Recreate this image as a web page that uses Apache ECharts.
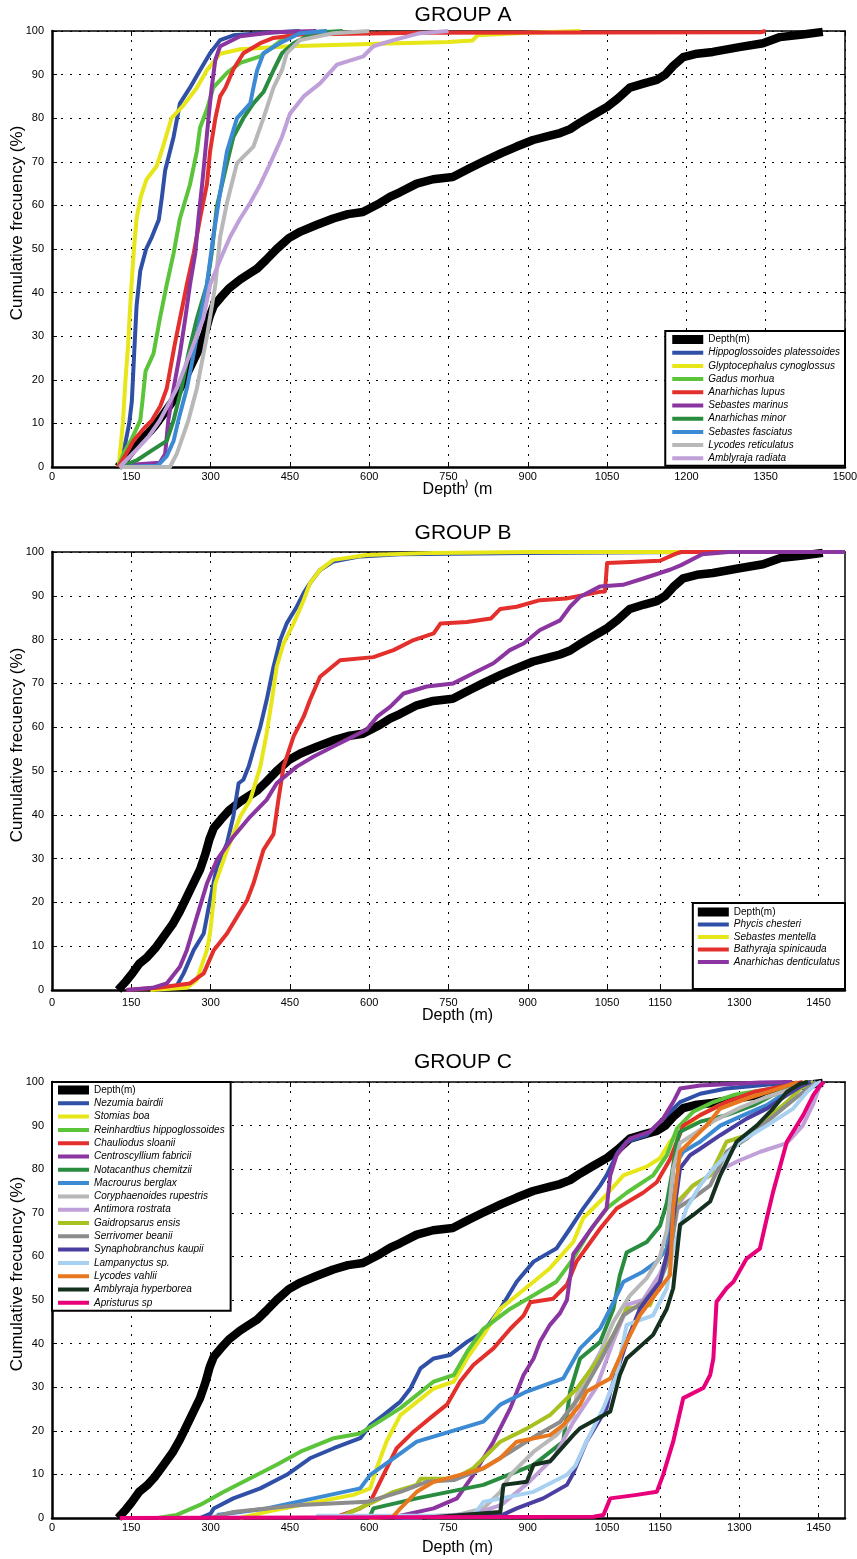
<!DOCTYPE html>
<html>
<head>
<meta charset="utf-8">
<title>Cumulative frequency by depth</title>
<script src="https://cdn.jsdelivr.net/npm/echarts@6/dist/echarts.min.js"></script>
<style>
  html, body { margin: 0; padding: 0; background: #fff; }
  #chart { width: 857px; height: 1559px; }
</style>
</head>
<body>
<div id="chart"></div>
<script>
// ---- Axis ticks ----
const depthTicksA = [0, 150, 300, 450, 600, 750, 900, 1050, 1200, 1350, 1500];
const depthTicksBC = [0, 150, 300, 450, 600, 750, 900, 1050, 1150, 1300, 1450];

// ---- Curves: [depth (m), cumulative frequency (%)] ----
const depthProfile = [[125,0],[140,2],[150,3.5],[165,6],[180,7.5],[195,9.5],[210,12],[228,15],[242,18],[258,22],[270,25],[280,27.5],[290,31],[298,34.5],[306,37],[320,39],[335,41],[356,43],[375,44.5],[388,45.5],[405,47.5],[425,50],[448,52.5],[470,54],[500,55.5],[532,57],[560,58],[588,58.5],[620,60.5],[640,62],[658,63],[690,65],[721,66],[758,66.5],[790,68.5],[815,70],[850,72],[879,73.5],[910,75],[942,76],[961,76.6],[980,77.5],[999,79],[1020,80.5],[1050,82.6],[1070,84.5],[1093,87],[1120,88],[1144,88.8],[1160,90],[1175,92],[1194,94],[1220,94.8],[1250,95.2],[1300,96.3],[1345,97.2],[1377,98.6],[1420,99.2],[1458,99.8]];

// Group A
const hippoglossoidesPlatessoides = [[128,0],[138,5],[146,10],[151,15],[155,25],[160,37],[167,45],[178,50],[189,52.8],[202,56.7],[208,62],[214,68],[230,75.7],[242,83.4],[261,87],[280,91],[299,94.9],[318,97.9],[343,99],[406,99.6],[469,100]];
const glyptocephalusCynoglossus = [[126,0],[130,5],[134,10],[139,20],[144,28],[147,35],[150,41],[155,50],[160,57],[168,62],[179,66],[198,69],[210,73.5],[226,80],[249,83],[274,87],[293,91],[318,94.8],[356,95.8],[450,96.5],[600,97],[750,97.5],[795,97.8],[805,99],[900,99.6],[1000,100]];
const gadusMorhua = [[125,0],[135,3],[151,6.5],[167,10.7],[171,15],[177,22],[192,26],[204,34],[217,41.8],[230,49],[242,57],[261,64.8],[274,72.4],[280,77.8],[293,82],[305,87],[331,90.4],[356,92.7],[394,94.2],[419,96.5],[444,98.8],[469,99.5],[520,100]];
const anarhichasLupus = [[125,0],[140,3],[154,6],[175,9],[189,10.7],[205,14],[217,18],[223,22],[232,28],[242,34],[255,41.8],[268,49],[280,57],[293,64.8],[299,72.4],[309,80],[318,85],[328,87],[343,91.2],[362,94.9],[394,97.2],[419,98.4],[469,99.2],[700,99.6],[1340,99.7],[1350,100]];
const sebastesMarinus = [[128,0],[150,0.5],[204,1],[214,3],[220,10.7],[230,18],[242,26],[252,34],[261,41.8],[271,49],[277,57],[284,64.8],[290,72.4],[296,80],[302,87],[309,93.4],[318,96.5],[356,98.8],[419,99.7],[500,100]];
const anarhichasMinor = [[128,0],[160,1.5],[189,3.8],[217,6],[230,10.7],[245,18],[258,26],[274,34],[293,41.8],[302,49],[312,59.8],[331,69.7],[343,75.7],[362,80],[381,83.4],[400,86],[419,91],[435,94.9],[457,97.2],[495,99.6],[550,100]];
const sebastesFasciatus = [[130,0],[200,0.3],[217,2.5],[230,6],[239,10.7],[255,18],[268,26],[280,34],[293,41.8],[305,52.8],[315,60.6],[331,72.4],[350,80],[375,83.4],[381,87],[388,91],[400,94.9],[431,97.2],[469,99.5],[520,100]];
const lycodesReticulatus = [[128,0],[223,0],[236,3],[258,10.7],[274,18],[293,30],[309,41.8],[318,52.8],[331,60.6],[350,69.7],[381,73.5],[400,80],[419,87],[435,91],[444,94.9],[469,97.9],[532,99.5],[600,100]];
const amblyrajaRadiata = [[128,0],[160,4],[183,7],[204,10.7],[236,18],[261,26],[286,34],[299,41.8],[318,47.5],[337,52.8],[356,57],[375,60.6],[394,64.8],[413,69.7],[435,75.7],[450,81],[476,85],[507,88],[539,92.3],[589,94.2],[608,96.5],[646,97.9],[696,99.5],[750,100]];

// Group B
const phycisChesteri = [[200,0],[236,1],[249,3.8],[268,9.1],[287,12.9],[299,20.5],[312,28.2],[331,33.5],[343,39.6],[353,47.2],[362,48],[372,51],[381,54.8],[394,60.1],[406,66.2],[419,73.8],[432,80],[444,83.7],[463,87.5],[476,90.6],[488,92.9],[507,95.9],[532,97.8],[583,99],[659,99.5],[900,99.8],[1200,100],[1500,100]];
const sebastesMentella = [[186,0],[255,0.5],[274,2.3],[293,9.1],[299,12.9],[309,24.3],[331,31.9],[356,39.6],[375,43.4],[394,51],[406,58.6],[416,66.2],[425,73.8],[438,79.1],[457,83.7],[476,89],[488,92.9],[507,95.9],[532,98.2],[595,99.3],[722,99.8],[900,100],[1500,100]];
const bathyrajaSpinicauda = [[141,0],[200,0.5],[261,1.5],[287,3.8],[306,9.1],[331,12.9],[350,16.7],[369,20.5],[381,24.3],[400,32],[419,35.6],[428,43.2],[438,51],[457,57.9],[476,62.4],[488,66.2],[507,71.5],[545,75.3],[608,76],[646,77.6],[684,79.9],[722,81.4],[735,83.7],[785,84],[830,84.8],[848,87],[879,87.5],[923,89],[973,89.4],[1036,90.9],[1046,91],[1050,97.5],[1150,98],[1178,99.5],[1190,100],[1500,100]];
const anarhichasDenticulatus = [[141,0],[190,0.5],[217,1.5],[242,5.3],[255,9.1],[274,16.7],[293,24.3],[312,29.7],[343,35],[375,39.6],[406,43.4],[425,47.2],[463,51],[495,53.3],[532,55.6],[570,57.9],[595,59.4],[615,62.4],[640,64.7],[665,67.7],[709,69.3],[759,70],[797,72.3],[835,74.6],[866,77.6],[892,79.1],[923,82.2],[961,84.4],[980,87.5],[999,89.8],[1036,92.1],[1080,92.5],[1120,94],[1170,96],[1190,97],[1230,99.5],[1280,100],[1500,100]];

// Group C
const nezumiaBairdii = [[280,0],[300,1],[306,2.2],[343,4.5],[394,6.8],[444,9.9],[488,13.7],[533,16],[583,18.3],[602,21.3],[627,23.6],[659,26.7],[678,29.7],[697,34.3],[722,36.6],[753,37.4],[785,40.4],[816,42.7],[848,48],[879,54.2],[911,58.8],[954,61.8],[980,66.4],[1005,71],[1037,76.3],[1049,78.6],[1071,84],[1087,86.3],[1125,87.8],[1163,92.4],[1188,95.4],[1226,97.3],[1276,98.5],[1371,99.6],[1390,100]];
const stomiasBoa = [[356,0],[406,1.4],[501,3.7],[570,5.3],[602,6.8],[614,11.4],[633,17.6],[659,23.6],[722,29.7],[760,31.3],[785,36.6],[816,42],[848,48],[911,54.2],[942,57.3],[986,63.3],[1005,68.8],[1043,73.4],[1081,78.6],[1125,80.6],[1150,82.5],[1169,86.3],[1200,90],[1226,92.4],[1264,94.7],[1314,97],[1371,98.5],[1415,99.6],[1430,100]];
const reinhardtiusHippoglossoides = [[200,0],[236,0.7],[280,3],[325,6],[375,9.1],[425,12.2],[470,15.2],[533,18.3],[583,19.4],[608,21.3],[659,25.2],[722,31.3],[760,32.8],[785,38.1],[816,43.4],[867,48],[911,51.1],[954,54.2],[986,59.5],[1018,66],[1049,71],[1087,74.6],[1137,78.6],[1163,83.2],[1182,89.3],[1213,93.2],[1251,95.4],[1289,97],[1364,98.5],[1415,99.6],[1430,100]];
const chauliodusSloanii = [[500,0],[533,0],[583,2.2],[602,3.7],[627,9.9],[652,16],[684,19.8],[722,23.6],[747,26],[772,31.3],[797,35.1],[835,38.9],[867,43.4],[892,46.4],[905,49.5],[948,50.3],[974,53.5],[992,58.8],[1037,66.4],[1068,71],[1118,74.6],[1144,77],[1169,82.3],[1194,90],[1226,92.4],[1276,95.4],[1327,97.7],[1390,99.2],[1420,100]];
const centroscylliumFabricii = [[600,0],[659,0.5],[722,2.2],[766,4.5],[797,9.9],[835,17.5],[867,25.2],[892,32.8],[911,36.6],[923,40.4],[942,44.3],[961,47],[974,50],[986,60.5],[1024,67],[1049,71],[1056,78.6],[1068,83.2],[1093,87],[1131,88.6],[1156,91.6],[1175,95.4],[1188,98.5],[1226,99.2],[1339,99.9],[1400,100]];
const notacanthusChemitzii = [[600,0],[608,2.2],[690,4.5],[816,7.6],[911,12.2],[967,17.5],[980,29],[999,36.6],[1037,40.4],[1062,48],[1074,55.6],[1087,60.9],[1125,63.3],[1150,67],[1163,72.3],[1172,78.5],[1182,86.3],[1188,88.6],[1226,90.9],[1276,92.4],[1327,94.7],[1364,97],[1402,98.9],[1430,100]];
const macrourusBerglax = [[312,0.7],[406,2.2],[495,4.5],[583,6.8],[602,9.9],[646,13.7],[690,17.5],[753,19.8],[816,22.1],[848,26],[898,29],[967,32],[999,38.9],[1037,43.5],[1056,48],[1081,54.2],[1118,56.5],[1144,58.8],[1163,61.8],[1169,69.5],[1175,80.2],[1194,84],[1226,86.3],[1264,90],[1308,92.4],[1352,94.7],[1390,97.7],[1428,99.2],[1445,100]];
const coryphaenoidesRupestris = [[650,0],[753,0.3],[816,2.2],[848,6],[867,9.9],[911,15.2],[954,19],[986,23.6],[992,28],[1037,38],[1062,45],[1093,51],[1125,55],[1150,60],[1163,66],[1175,80],[1188,86],[1213,88],[1251,91],[1300,94],[1350,96.5],[1400,98.5],[1440,100]];
const antimoraRostrata = [[650,0],[800,1],[850,3],[900,8],[950,14],[986,22],[1030,30],[1060,40],[1090,49],[1118,50],[1150,56],[1170,62],[1185,72],[1210,76],[1250,79],[1300,82],[1340,84],[1390,86],[1420,90],[1440,95],[1455,100]];
const gaidropsarusEnsis = [[550,0.5],[608,3.7],[646,6],[690,7.6],[697,9],[760,9],[797,11.4],[848,17.5],[898,20.5],[942,23.6],[993,29.7],[1037,37],[1062,42],[1087,48],[1131,48.8],[1150,54.2],[1169,63.3],[1182,72.4],[1213,76.3],[1245,78.6],[1276,86.3],[1314,87.8],[1352,91.6],[1390,95.4],[1415,98.5],[1440,100]];
const serrivomerBeanii = [[300,0],[343,1.4],[470,3],[596,3.7],[659,6],[709,8.3],[760,8.7],[816,11.4],[867,15.2],[917,19],[961,22],[999,28],[1037,36],[1081,46.5],[1118,49.5],[1150,54.2],[1169,60.2],[1182,71],[1213,73.4],[1245,76.3],[1276,84],[1314,87],[1352,90.9],[1390,94.7],[1421,97.7],[1445,100]];
const synaphobranchusKaupii = [[650,0],[848,0.5],[879,2.2],[929,4.5],[974,7.6],[985,10],[1011,17.5],[1049,25.2],[1056,29],[1087,40.4],[1112,48],[1150,54.2],[1169,63.3],[1188,80.2],[1207,83.2],[1226,84.7],[1264,87.8],[1314,91.6],[1352,93.9],[1390,97],[1415,98.9],[1435,100]];
const lampanyctusSp = [[500,0.5],[797,0.5],[816,3.7],[911,6],[974,9.9],[990,12],[1011,17.5],[1043,25.2],[1068,32.8],[1087,44.3],[1137,46.5],[1163,52.7],[1175,61.8],[1200,71],[1226,76.3],[1251,80.2],[1301,86.3],[1352,90],[1402,93.9],[1428,97.7],[1446,99.6],[1455,100]];
const lycodesVahlii = [[600,0],[645,0.3],[659,2.2],[690,6],[722,8.3],[772,9.9],[816,11.4],[848,13.7],[879,17.5],[942,19],[967,21.3],[999,26],[1011,29],[1056,32],[1087,40.4],[1112,46.5],[1150,52.7],[1169,55.7],[1175,71],[1188,84],[1213,87],[1238,90],[1264,93.9],[1314,96.2],[1364,98.1],[1402,99.6],[1410,100]];
const amblyrajaHyperborea = [[700,0],[848,1.4],[854,7.6],[898,8.3],[911,12.2],[942,13],[986,19],[999,20.6],[1056,24.4],[1074,32.8],[1087,36.6],[1137,42],[1163,48],[1175,52.7],[1188,67.3],[1213,69.5],[1245,72.6],[1264,78.6],[1295,86.3],[1333,90],[1364,93.9],[1390,97.7],[1415,99.6],[1430,100]];
const apristurusSp = [[128,0],[1024,0.3],[1043,0.7],[1056,4.5],[1106,5.3],[1144,6],[1156,9.9],[1175,17.5],[1194,27.5],[1232,29.8],[1245,32.8],[1251,36.6],[1257,49.6],[1276,52.7],[1289,54.2],[1314,59.5],[1339,61.8],[1352,68.7],[1364,74.8],[1390,86.3],[1421,92.4],[1440,97],[1453,99.2],[1460,100]];

// ---- Series names (legend order = drawing order) ----
const groupANames = ['Depth(m)', 'Hippoglossoides platessoides', 'Glyptocephalus cynoglossus', 'Gadus morhua', 'Anarhichas lupus', 'Sebastes marinus', 'Anarhichas minor', 'Sebastes fasciatus', 'Lycodes reticulatus', 'Amblyraja radiata'];
const groupACurves = [depthProfile, hippoglossoidesPlatessoides, glyptocephalusCynoglossus, gadusMorhua, anarhichasLupus, sebastesMarinus, anarhichasMinor, sebastesFasciatus, lycodesReticulatus, amblyrajaRadiata];

const groupBNames = ['Depth(m)', 'Phycis chesteri', 'Sebastes mentella', 'Bathyraja spinicauda', 'Anarhichas denticulatus'];
const groupBCurves = [depthProfile, phycisChesteri, sebastesMentella, bathyrajaSpinicauda, anarhichasDenticulatus];

const groupCNames = ['Depth(m)', 'Nezumia bairdii', 'Stomias boa', 'Reinhardtius hippoglossoides', 'Chauliodus sloanii', 'Centroscyllium fabricii', 'Notacanthus chemitzii', 'Macrourus berglax', 'Coryphaenoides rupestris', 'Antimora rostrata', 'Gaidropsarus ensis', 'Serrivomer beanii', 'Synaphobranchus kaupii', 'Lampanyctus sp.', 'Lycodes vahlii', 'Amblyraja hyperborea', 'Apristurus sp'];
const groupCCurves = [depthProfile, nezumiaBairdii, stomiasBoa, reinhardtiusHippoglossoides, chauliodusSloanii, centroscylliumFabricii, notacanthusChemitzii, macrourusBerglax, coryphaenoidesRupestris, antimoraRostrata, gaidropsarusEnsis, serrivomerBeanii, synaphobranchusKaupii, lampanyctusSp, lycodesVahlii, amblyrajaHyperborea, apristurusSp];

// ---- Styling ----
const groupAColors = ['#000000', '#3050a8', '#e6e619', '#5cc43a', '#e3302c', '#8a35a0', '#2a8c3e', '#3d8ad4', '#b8b8b8', '#c0a0d8'];
const groupBColors = ['#000000', '#3050a8', '#e6e619', '#e3302c', '#8a35a0'];
const groupCColors = ['#000000', '#3050a8', '#e6e619', '#5cc43a', '#e3302c', '#8a35a0', '#2a8c3e', '#3d8ad4', '#b8b8b8', '#c0a0d8', '#a8c020', '#8c8c8c', '#4a3fa0', '#a8d0f0', '#e87820', '#163020', '#e8007a'];

const FONT = "'Liberation Sans', Arial, Helvetica, sans-serif";

const grids = [
  { left: 52, right: 12, top: 31, height: 436 },
  { left: 52, right: 12, top: 552, height: 438 },
  { left: 52, right: 12, top: 1082, height: 436 }
];

// Legend swatch: a bar of height barH centred in a w x h box
function swatch(w, h, barH) {
  const y0 = (h - barH) / 2;
  return 'path://M0,0h0.01v0.01h-0.01z M0,' + y0 + 'h' + w + 'v' + barH + 'h-' + w + 'z M' + (w - 0.01) + ',' + (h - 0.01) + 'h0.01v0.01h-0.01z';
}

function legendData(names, h) {
  return names.map((n, i) => ({
    name: n,
    icon: swatch(31, h, i === 0 ? 9 : 4),
    textStyle: i === 0 ? { fontStyle: 'normal' } : { fontStyle: 'italic' }
  }));
}

function makeSeries(g, names, curves, colors) {
  return names.map((n, i) => ({
    type: 'line',
    name: n,
    xAxisIndex: g * 2,
    yAxisIndex: g * 2,
    data: curves[i],
    showSymbol: false,
    symbol: 'none',
    clip: false,
    silent: true,
    color: colors[i],
    z: 3,
    lineStyle: { color: colors[i], width: i === 0 ? 8.5 : 4, join: 'round', cap: 'butt' }
  }));
}

const plainNumber = v => String(v);

function mainX(g, ticks, name, labelMargin, nameGap) {
  const ax = {
    gridIndex: g, type: 'value', position: 'bottom', min: 0, max: 1500,
    axisLine: { show: true, onZero: false, lineStyle: { color: '#000', width: 2.5 } },
    axisTick: { show: true, inside: true, length: 5, lineStyle: { color: '#000', width: 1 } },
    axisLabel: { show: true, color: '#000', fontSize: 11, fontFamily: FONT, margin: labelMargin, showMinLabel: true, showMaxLabel: true, formatter: plainNumber },
    splitLine: { show: true, lineStyle: { color: '#000', width: 1, type: [2, 7] } },
    name: name, nameLocation: 'middle', nameGap: nameGap, nameMoveOverlap: false,
    nameTextStyle: { color: '#000', fontSize: 16, fontFamily: FONT, padding: [0, 0, 0, 18] }
  };
  if (ticks === depthTicksA) {
    ax.interval = 150;
  } else {
    ax.axisLabel.customValues = ticks;
    ax.axisTick.customValues = ticks;
  }
  return ax;
}

function frameX(g, ticks) {
  const ax = {
    gridIndex: g, type: 'value', position: 'top', min: 0, max: 1500,
    axisLine: { show: true, onZero: false, lineStyle: { color: '#000', width: 1.5 } },
    axisTick: { show: true, inside: true, length: 5, lineStyle: { color: '#000', width: 1 } },
    axisLabel: { show: false }, splitLine: { show: false }
  };
  if (ticks === depthTicksA) ax.interval = 150; else ax.axisTick.customValues = ticks;
  return ax;
}

function mainY(g) {
  return {
    gridIndex: g, type: 'value', position: 'left', min: 0, max: 100, interval: 10,
    axisLine: { show: true, onZero: false, lineStyle: { color: '#000', width: 2.5 } },
    axisTick: { show: true, inside: true, length: 5, lineStyle: { color: '#000', width: 1 } },
    axisLabel: { show: true, color: '#000', fontSize: 11, fontFamily: FONT, margin: 8, showMinLabel: true, showMaxLabel: true, formatter: plainNumber },
    splitLine: { show: true, lineStyle: { color: '#000', width: 1, type: [2, 7] } },
    name: 'Cumulative frecuency (%)', nameLocation: 'middle', nameGap: 26, nameMoveOverlap: false,
    nameTextStyle: { color: '#000', fontSize: 17, fontFamily: FONT, padding: [0, 0, 0, 52] }
  };
}

function frameY(g) {
  return {
    gridIndex: g, type: 'value', position: 'right', min: 0, max: 100, interval: 10,
    axisLine: { show: true, onZero: false, lineStyle: { color: '#000', width: 1.5 } },
    axisTick: { show: true, inside: true, length: 5, lineStyle: { color: '#000', width: 1 } },
    axisLabel: { show: false }, splitLine: { show: false }
  };
}

const legendBase = {
  orient: 'vertical', align: 'left', selectedMode: false,
  itemWidth: 31, backgroundColor: '#fff', borderColor: '#000', borderWidth: 2, borderRadius: 0,
  itemStyle: { borderWidth: 0 },
  textStyle: { color: '#000', fontSize: 10, lineHeight: 12, fontFamily: FONT, fontStyle: 'italic' },
  z: 10
};

const titleStyle = { color: '#000', fontSize: 21, fontWeight: 'normal', fontFamily: FONT };

const option = {
  backgroundColor: '#fff',
  animation: false,
  title: [
    { text: 'GROUP A', left: 463, top: 5, textAlign: 'center', padding: 0, textStyle: titleStyle },
    { text: 'GROUP B', left: 463, top: 523, textAlign: 'center', padding: 0, textStyle: titleStyle },
    { text: 'GROUP C', left: 463, top: 1052, textAlign: 'center', padding: 0, textStyle: titleStyle }
  ],
  grid: grids.map(g => Object.assign({ show: false, containLabel: false, outerBoundsMode: 'none' }, g)),
  xAxis: [
    mainX(0, depthTicksA, 'Depth\u207E (m', 4, 15), frameX(0, depthTicksA),
    mainX(1, depthTicksBC, 'Depth (m)', 7, 18), frameX(1, depthTicksBC),
    mainX(2, depthTicksBC, 'Depth (m)', 4, 22), frameX(2, depthTicksBC)
  ],
  yAxis: [mainY(0), frameY(0), mainY(1), frameY(1), mainY(2), frameY(2)],
  legend: [
    Object.assign({}, legendBase, { right: 12, top: 331, padding: [2, 5, 1, 7], itemHeight: 13, itemGap: 0.2, data: legendData(groupANames, 13) }),
    Object.assign({}, legendBase, { right: 12, top: 903, padding: [3, 5, 21, 5], itemHeight: 12, itemGap: 0.5, data: legendData(groupBNames, 12) }),
    Object.assign({}, legendBase, { left: 52, top: 1082, padding: [1.5, 6, 1.5, 6], itemHeight: 13, itemGap: 0.3, data: legendData(groupCNames, 13) })
  ],
  series: [].concat(
    makeSeries(0, groupANames, groupACurves, groupAColors),
    makeSeries(1, groupBNames, groupBCurves, groupBColors),
    makeSeries(2, groupCNames, groupCCurves, groupCColors)
  )
};

const chart = echarts.init(document.getElementById('chart'), null, { renderer: 'canvas' });
chart.setOption(option);
</script>
</body>
</html>
